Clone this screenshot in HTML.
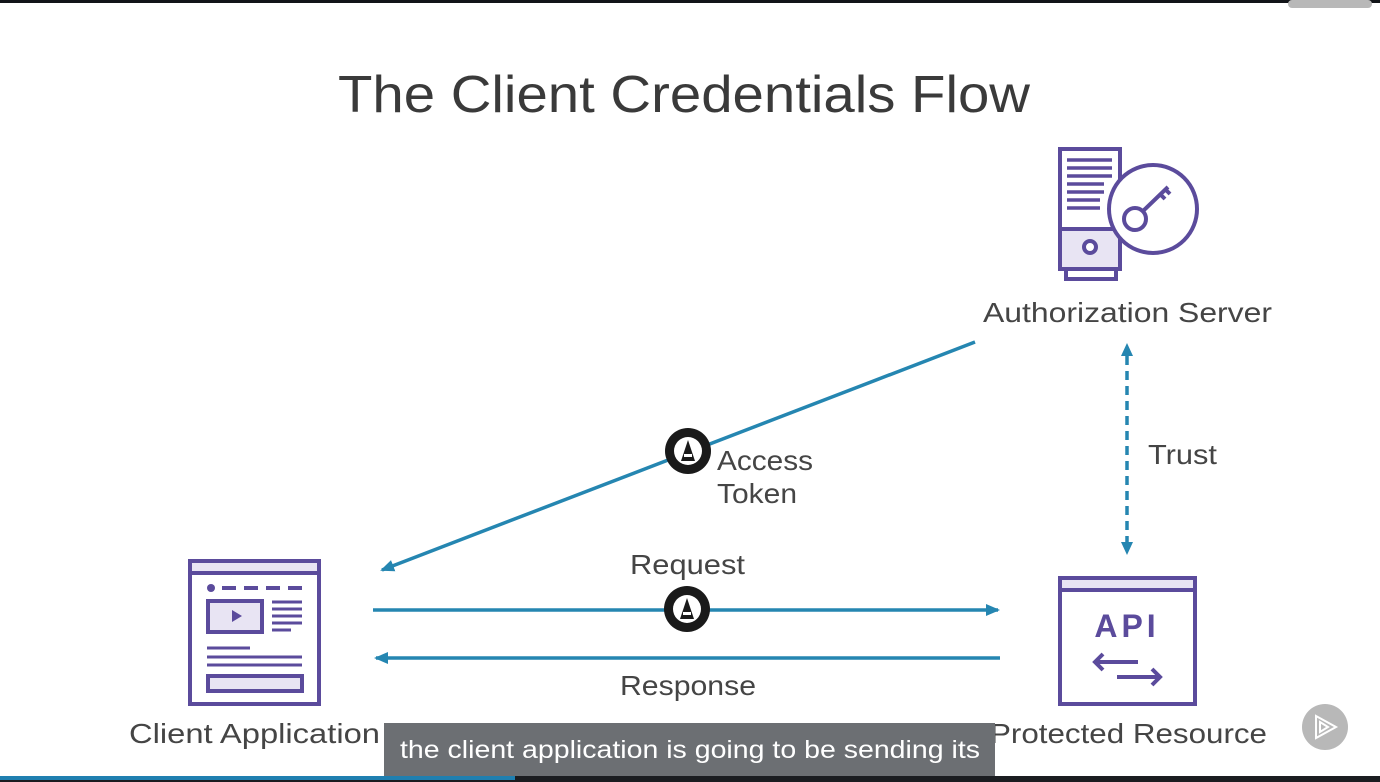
<!DOCTYPE html>
<html><head><meta charset="utf-8"><style>
html,body{margin:0;padding:0;background:#fff;width:1380px;height:782px;overflow:hidden}
svg{display:block}
text{font-family:"Liberation Sans",sans-serif}
</style></head><body>
<svg width="1380" height="782" viewBox="0 0 1380 782">
<rect x="0" y="0" width="1380" height="3" fill="#111418"/>
<rect x="1288" y="0" width="84" height="8" rx="4" fill="#b8b8b8"/>
<text x="338" y="112" font-size="52" fill="#3a3a3a" textLength="692" lengthAdjust="spacingAndGlyphs">The Client Credentials Flow</text>

<defs>
<marker id="ah" markerWidth="8" markerHeight="8" refX="6" refY="4" orient="auto" markerUnits="userSpaceOnUse"><path d="M0,0 L8,4 L0,8 z" fill="#2586b1"/></marker>
<marker id="ah2" markerWidth="14" markerHeight="12" refX="12" refY="6" orient="auto" markerUnits="userSpaceOnUse"><path d="M0,0 L14,6 L0,12 z" fill="#2586b1"/></marker>
</defs>

<g stroke="#2586b1" stroke-width="3.5" fill="none">
<line x1="975" y1="342" x2="382" y2="570" marker-end="url(#ah2)"/>
<line x1="373" y1="610" x2="998" y2="610" marker-end="url(#ah2)"/>
<line x1="1000" y1="658" x2="376" y2="658" marker-end="url(#ah2)"/>
<line x1="1127" y1="356" x2="1127" y2="543" stroke-dasharray="9,6"/>
</g>
<path d="M1127,343 L1121,356 L1133,356 z" fill="#2586b1"/>
<path d="M1127,555 L1121,542 L1133,542 z" fill="#2586b1"/>

<!-- token badges -->
<g>
<circle cx="688" cy="451" r="23" fill="#1a1a1a"/><circle cx="688" cy="451" r="14" fill="#fff"/>
<path d="M681,461 L688,440 L695,461 Z" fill="#1a1a1a"/><rect x="684" y="454" width="8" height="3" fill="#fff"/>
<circle cx="687" cy="609" r="23" fill="#1a1a1a"/><circle cx="687" cy="609" r="14" fill="#fff"/>
<path d="M680,619 L687,598 L694,619 Z" fill="#1a1a1a"/><rect x="683" y="612" width="8" height="3" fill="#fff"/>
</g>

<g font-size="28" fill="#454545">
<text x="983" y="322" textLength="289" lengthAdjust="spacingAndGlyphs">Authorization Server</text>
<text x="717" y="470" textLength="96" lengthAdjust="spacingAndGlyphs">Access</text>
<text x="717" y="503" textLength="80" lengthAdjust="spacingAndGlyphs">Token</text>
<text x="1148" y="464" textLength="69" lengthAdjust="spacingAndGlyphs">Trust</text>
<text x="630" y="574" textLength="115" lengthAdjust="spacingAndGlyphs">Request</text>
<text x="620" y="695" textLength="136" lengthAdjust="spacingAndGlyphs">Response</text>
<text x="129" y="743" textLength="251" lengthAdjust="spacingAndGlyphs">Client Application</text>
<text x="990" y="743" textLength="277" lengthAdjust="spacingAndGlyphs">Protected Resource</text>
</g>

<!-- server icon -->
<g stroke="#5b4b9c" stroke-width="4" fill="none">
<rect x="1060" y="149" width="60" height="120" fill="#fff"/>
<rect x="1060" y="229" width="60" height="40" fill="#e8e4f3"/>
<circle cx="1090" cy="247" r="6" fill="#fff"/>
<rect x="1066" y="269" width="50" height="10" fill="#fff"/>
<g stroke-width="3.5"><line x1="1067" y1="160" x2="1112" y2="160"/><line x1="1067" y1="168" x2="1112" y2="168"/><line x1="1067" y1="176" x2="1112" y2="176"/><line x1="1067" y1="184" x2="1104" y2="184"/><line x1="1067" y1="192" x2="1104" y2="192"/><line x1="1067" y1="200" x2="1100" y2="200"/><line x1="1067" y1="208" x2="1100" y2="208"/></g>
<circle cx="1153" cy="209" r="44" fill="#fff"/>
<circle cx="1135" cy="219" r="11"/>
<path d="M1143,211 L1168,187 M1160,194 L1165,199 M1165,189 L1170,194"/>
</g>

<!-- client app icon -->
<g stroke="#5b4b9c" stroke-width="4" fill="none">
<rect x="190" y="561" width="129" height="143" fill="#fff"/>
<rect x="190" y="561" width="129" height="12" fill="#e8e4f3"/>
<circle cx="211" cy="588" r="4" fill="#5b4b9c" stroke="none"/>
<line x1="222" y1="588" x2="302" y2="588" stroke-dasharray="14,8"/>
<rect x="208" y="601" width="54" height="31" fill="#e8e4f3"/>
<g stroke-width="3"><line x1="272" y1="602" x2="302" y2="602"/><line x1="272" y1="609" x2="302" y2="609"/><line x1="272" y1="616" x2="302" y2="616"/><line x1="272" y1="623" x2="302" y2="623"/><line x1="272" y1="630" x2="291" y2="630"/>
<line x1="207" y1="648" x2="250" y2="648"/><line x1="207" y1="657" x2="302" y2="657"/><line x1="207" y1="665" x2="302" y2="665"/></g>
<rect x="208" y="676" width="94" height="15" fill="#e8e4f3"/>
</g>
<path d="M232,610 L242,616 L232,622 z" fill="#5b4b9c"/>

<!-- API icon -->
<g stroke="#5b4b9c" stroke-width="4" fill="none">
<rect x="1060" y="578" width="135" height="126" fill="#fff"/>
<rect x="1060" y="578" width="135" height="12" fill="#e8e4f3"/>
<path d="M1095,662 L1138,662 M1103,654 L1095,662 L1103,670"/>
<path d="M1117,677 L1160,677 M1152,669 L1160,677 L1152,685"/>
</g>
<text x="1127" y="637" font-size="32" font-weight="bold" fill="#5b4b9c" text-anchor="middle" letter-spacing="4">API</text>

<!-- play button -->
<circle cx="1325" cy="727" r="23" fill="#b8b8b8"/>
<path d="M1316,716 L1336,727 L1316,738 z M1320,722 L1328,727 L1320,732 z" fill="none" stroke="#fff" stroke-width="2"/>

<!-- caption -->
<rect x="384" y="723" width="611" height="53" fill="#6c6f73"/>
<text x="400" y="758" font-size="25" fill="#fff" textLength="580" lengthAdjust="spacingAndGlyphs">the client application is going to be sending its</text>

<rect x="0" y="776" width="1380" height="6" fill="#1b1d21"/>
<rect x="0" y="776" width="515" height="4" fill="#1f7fb0"/>
</svg>
</body></html>
